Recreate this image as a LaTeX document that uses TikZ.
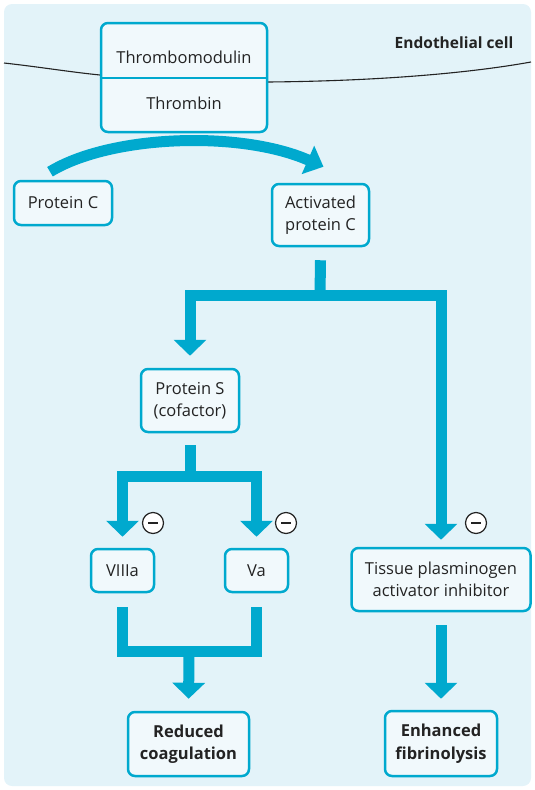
\documentclass[tikz,border=0pt]{standalone}
\usepackage{fontspec}
\setmainfont{Open Sans}
\usetikzlibrary{arrows.meta,calc}
\definecolor{cyanline}{RGB}{0,169,206}
\definecolor{bgblue}{RGB}{227,243,249}
\definecolor{boxfill}{RGB}{241,249,252}
\definecolor{txt}{RGB}{35,35,35}
\begin{document}
\begin{tikzpicture}[x=1pt,y=-1pt,
  box/.style={draw=cyanline,line width=2.5pt,fill=boxfill,rounded corners=7pt,
    align=center,text=txt,font=\fontsize{16.5}{22.5}\selectfont,inner sep=0pt},
  plaintext/.style={text=txt,font=\fontsize{16.5}{22.5}\selectfont,inner sep=0pt},
  flowline/.style={draw=cyanline,line width=11pt,line join=miter},
  flowarrow/.style={flowline,-{Triangle[length=16pt,width=32pt]}},
  minusmark/.style={circle,draw=txt,fill=white,line width=1.2pt,minimum size=21pt,inner sep=0pt,
    path picture={\draw[txt,line width=2pt] ([xshift=-5pt]path picture bounding box.center) -- ([xshift=5pt]path picture bounding box.center);}}
]
\useasboundingbox (0,0) rectangle (535,790);
\fill[bgblue,rounded corners=8pt] (4,4) rectangle (531,786);

% membrane
\draw[txt,line width=1.1pt] (4,63) .. controls (40,67) and (70,72) .. (100,75);
\draw[txt,line width=1.1pt] (268,82) .. controls (380,81) and (470,73) .. (531,62);

\node[font=\bfseries\fontsize{15.5}{18}\selectfont,text=txt] (ec) at (454,43) {Endothelial cell};

% nodes
\node[box,minimum width=166pt,minimum height=109pt] (tm) at (184,77.5) {};
\coordinate (div) at (184,78);
\draw[cyanline,line width=2.5pt] (tm.west |- div) -- (tm.east |- div);
\node[plaintext] (tmt) at (184,57) {Thrombomodulin};
\node[plaintext] (thr) at (184,103) {Thrombin};

\node[box,minimum width=98pt,minimum height=44pt] (pc) at (63,203) {Protein C};
\node[box,minimum width=97pt,minimum height=62pt] (apc) at (320.5,215) {Activated\\protein C};
\node[box,minimum width=98pt,minimum height=63pt] (ps) at (190,400.5) {Protein S\\(cofactor)};
\node[box,minimum width=63pt,minimum height=43pt] (v8) at (122.5,570.5) {VIIIa};
\node[box,minimum width=63pt,minimum height=43pt] (va) at (256.5,570.5) {Va};
\node[box,minimum width=179pt,minimum height=63pt] (tpai) at (441,579.5) {Tissue plasminogen\\activator inhibitor};
\node[box,minimum width=121pt,minimum height=64pt,font=\bfseries\fontsize{16.5}{22.5}\selectfont] (rc) at (188.5,744) {Reduced\\coagulation};
\node[box,minimum width=112pt,minimum height=65pt,font=\bfseries\fontsize{16.5}{22.5}\selectfont] (ef) at (441,743.5) {Enhanced\\fibrinolysis};

% curved arrow protein C -> activated protein C
\draw[cyanline,line width=11pt,-{Triangle[length=17pt,width=30pt]}]
  ($(pc.north)+(-13,-8)$) .. controls (110,135) and (240,130) .. ($(apc.north)+(3,-16)$);

% activated protein C branches
\coordinate (j1) at (320,295);
\draw[flowline] ($(apc.south)+(0,13)$) -- (j1);
\draw[flowarrow,shorten >=12pt] (j1) -| (ps.north);
\draw[flowarrow,shorten >=7pt] (j1) -| (tpai.north);

% protein S branches
\coordinate (j2) at (190,476);
\draw[flowline] ($(ps.south)+(0,12)$) -- (j2);
\draw[flowarrow,shorten >=11pt] (j2) -| (v8.north);
\draw[flowarrow,shorten >=11pt] (j2) -| (va.north);

% VIIIa and Va to reduced coagulation
\coordinate (j3) at (189,651);
\draw[flowline] ($(v8.south)+(0,14)$) |- ($(va.south)+(0,58)$) -- ($(va.south)+(0,14)$);
\draw[flowarrow,shorten >=12pt] (j3) -- (rc.north);

% TPAI to enhanced fibrinolysis
\draw[flowarrow,shorten >=11pt] ($(tpai.south)+(0,13)$) -- (ef.north);

% inhibition marks
\node[minusmark] (m1) at (153,523) {};
\node[minusmark] (m2) at (286,523) {};
\node[minusmark] (m3) at (476,523) {};
\end{tikzpicture}
\end{document}
